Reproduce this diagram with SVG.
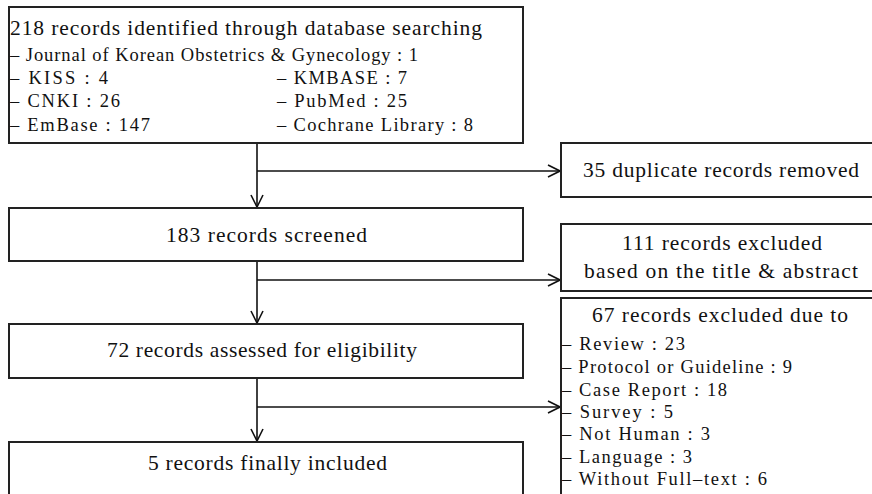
<svg xmlns="http://www.w3.org/2000/svg" width="872" height="494" viewBox="0 0 872 494">
<style>
.box{fill:#fff;stroke:#222;stroke-width:2}
.ln{fill:none;stroke:#111;stroke-width:1.6}
text{font-family:"Liberation Serif","DejaVu Serif",serif;fill:#111}
.big{font-size:21.5px}
.sm{font-size:18.5px}
</style>
<defs>
<marker id="arr" viewBox="0 0 14 14" refX="13" refY="7" markerWidth="14" markerHeight="14" markerUnits="userSpaceOnUse" orient="auto">
<path d="M1,1 L13,7 L1,13" fill="none" stroke="#111" stroke-width="1.6"/>
</marker>
</defs>
<g id="connectors">
<line class="ln" x1="257" y1="144" x2="257" y2="207" marker-end="url(#arr)"/>
<line class="ln" x1="257" y1="171" x2="560" y2="171" marker-end="url(#arr)"/>
<line class="ln" x1="257" y1="261" x2="257" y2="323" marker-end="url(#arr)"/>
<line class="ln" x1="257" y1="280" x2="560" y2="280" marker-end="url(#arr)"/>
<line class="ln" x1="257" y1="378" x2="257" y2="441" marker-end="url(#arr)"/>
<line class="ln" x1="257" y1="407" x2="560" y2="407" marker-end="url(#arr)"/>
</g>
<g id="n_identified">
<rect class="box" x="9" y="7" width="514" height="136"/>
<text class="big" x="10" y="35" textLength="472" lengthAdjust="spacing">218 records identified through database searching</text>
<text class="sm" x="10" y="61" textLength="408" lengthAdjust="spacing">– Journal of Korean Obstetrics &amp; Gynecology : 1</text>
<text class="sm" x="10" y="84" textLength="98" lengthAdjust="spacing">– KISS : 4</text>
<text class="sm" x="10" y="107" textLength="110" lengthAdjust="spacing">– CNKI : 26</text>
<text class="sm" x="10" y="131" textLength="140" lengthAdjust="spacing">– EmBase : 147</text>
<text class="sm" x="277" y="84" textLength="130" lengthAdjust="spacing">– KMBASE : 7</text>
<text class="sm" x="277" y="107" textLength="130" lengthAdjust="spacing">– PubMed : 25</text>
<text class="sm" x="277" y="131" textLength="196" lengthAdjust="spacing">– Cochrane Library : 8</text>
</g>
<g id="n_duplicates">
<rect class="box" x="561" y="143" width="320" height="54"/>
<text class="big" x="583" y="177" textLength="276" lengthAdjust="spacing">35 duplicate records removed</text>
</g>
<g id="n_screened">
<rect class="box" x="9" y="208" width="514" height="53"/>
<text class="big" x="166" y="242" textLength="201" lengthAdjust="spacing">183 records screened</text>
</g>
<g id="n_excluded_title">
<rect class="box" x="561" y="224" width="320" height="67"/>
<text class="big" x="622" y="250" textLength="200" lengthAdjust="spacing">111 records excluded</text>
<text class="big" x="584" y="278" textLength="274" lengthAdjust="spacing">based on the title &amp; abstract</text>
</g>
<g id="n_eligibility">
<rect class="box" x="9" y="324" width="514" height="54"/>
<text class="big" x="107" y="357" textLength="310" lengthAdjust="spacing">72 records assessed for eligibility</text>
</g>
<g id="n_excluded_due">
<rect class="box" x="561" y="298" width="320" height="210"/>
<text class="big" x="592" y="322" textLength="256" lengthAdjust="spacing">67 records excluded due to</text>
<text class="sm" x="562" y="350" textLength="123" lengthAdjust="spacing">– Review : 23</text>
<text class="sm" x="562" y="373" textLength="230" lengthAdjust="spacing">– Protocol or Guideline : 9</text>
<text class="sm" x="562" y="396" textLength="165" lengthAdjust="spacing">– Case Report : 18</text>
<text class="sm" x="562" y="418" textLength="111" lengthAdjust="spacing">– Survey : 5</text>
<text class="sm" x="562" y="440" textLength="148" lengthAdjust="spacing">– Not Human : 3</text>
<text class="sm" x="562" y="463" textLength="130" lengthAdjust="spacing">– Language : 3</text>
<text class="sm" x="562" y="485" textLength="205" lengthAdjust="spacing">– Without Full–text : 6</text>
</g>
<g id="n_included">
<rect class="box" x="9" y="442" width="514" height="70"/>
<text class="big" x="148" y="470" textLength="239" lengthAdjust="spacing">5 records finally included</text>
</g>
</svg>
